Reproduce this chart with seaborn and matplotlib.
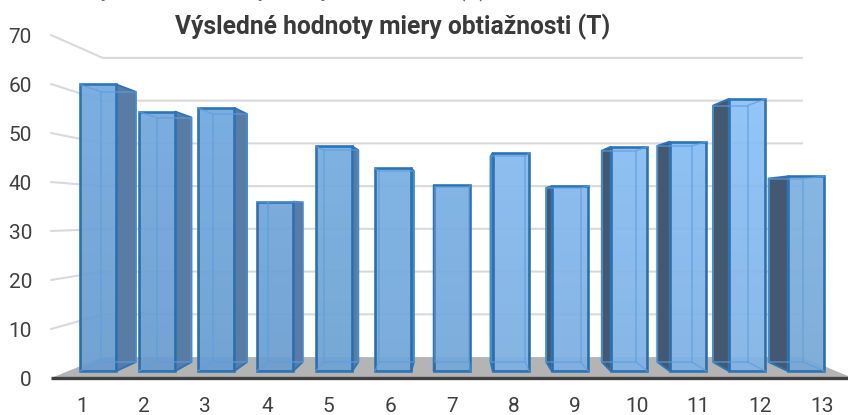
import numpy as np
import pandas as pd
import matplotlib.pyplot as plt
import seaborn as sns
from matplotlib.patches import Polygon

groups = ['1', '2', '3', '4', '5', '6', '7', '8', '9', '10', '11', '12', '13']
values = [61.1, 55.3, 56.1, 36.1, 47.9, 43.2, 39.6, 46.5, 39.4, 47.8, 48.9, 58.0, 41.5]
y_ticks = [0, 10, 20, 30, 40, 50, 60, 70]
face_colors = ['#72a9df', '#72a9df', '#72aae0', '#74abe1', '#78b0e4', '#7cb4e8', '#7eb5ea',
               '#88bef4', '#88bef5', '#8ac0f7', '#8ac0f7', '#8cc2f8', '#82b6e8']
side_colors = ['#587ca4', '#587ca4', '#587ca4', '#587ca4', '#587ca4', '#55789f', '#55789f',
               '#4d6b8c', '#44586f', '#44586f', '#44586f', '#44586f', '#44586f']

title = 'Výsledné hodnoty miery obtiažnosti (T)'
caption = 'Graf 1. Výsledné hodnoty miery obtiažnosti (T)'

sns.set_style('white')
plt.rcParams['font.family'] = ['Roboto', 'DejaVu Sans']

W, H = 848, 415
fig = plt.figure(figsize=(W / 100, H / 100), dpi=100)
ax = fig.add_axes([0, 0, 1, 1])

df = pd.DataFrame({'group': groups, 'value': values})
sns.barplot(data=df, x='group', y='value', hue='group', palette=face_colors, legend=False,
            width=0.62, edgecolor='#2e75b6', linewidth=1.9, saturation=1, ax=ax, zorder=3)
bars = list(ax.patches)

# data scale: bar 1 centre at px 98, 59 px per bar, baseline at px 371, 4.69 px per unit
PX_X, PX_Y = 59.0, 4.69

# fake perspective, everything is scaled around the vanishing point
VX, VY = (456 - 98) / PX_X, (371 - 214) / PX_Y
S_AXIS, S_FRONT, S_BACK, S_WALL = 1.0, 0.957, 0.902, 0.872


def proj(x, y, s):
    k = s / S_FRONT
    return VX + (x - VX) * k, VY + (y - VY) * k


x_left = VX + (51 - 456) / PX_X / S_AXIS * S_FRONT
x_right = VX + (853 - 456) / PX_X / S_AXIS * S_FRONT

# floor
floor = [proj(x_left, 0, S_AXIS), proj(x_left, 0, S_WALL), proj(x_right, 0, S_WALL), proj(x_right, 0, S_AXIS)]
ax.add_patch(Polygon(floor, closed=True, facecolor='#b4b4b4', edgecolor='none', zorder=1))

# grid on the wall and the left side
for t in y_ticks[1:]:
    a = proj(x_left, t, S_AXIS)
    b = proj(x_left, t, S_WALL)
    c = proj(x_right, t, S_WALL)
    ax.plot([a[0], b[0], c[0]], [a[1], b[1], c[1]], color='#d9d9d9', lw=1.5, zorder=1)

a = proj(x_left, 0, S_AXIS)
c = proj(x_right, 0, S_AXIS)
ax.plot([a[0], c[0]], [a[1], c[1]], color='#404040', lw=2.4, zorder=2, solid_capstyle='butt')

# depth of each bar
for i, bar in enumerate(bars):
    x0 = bar.get_x()
    x1 = x0 + bar.get_width()
    top = bar.get_height()
    r, g, b_, _ = bar.get_facecolor()
    bar.set_facecolor((r, g, b_, 0.93))
    # visible side is the one facing the vanishing point
    xs = x1 if x1 < VX else x0
    xo = x0 if x1 < VX else x1
    side = [proj(xs, 0, S_FRONT), proj(xs, top, S_FRONT), proj(xs, top, S_BACK), proj(xs, 0, S_BACK)]
    ax.add_patch(Polygon(side, closed=True, facecolor=side_colors[i], edgecolor='#2e75b6', lw=1.4,
                         joinstyle='round', zorder=2.5))
    back = [proj(xo, 0, S_BACK), proj(xo, top, S_BACK), proj(xs, top, S_BACK), proj(xs, 0, S_BACK)]
    ax.add_patch(Polygon(back, closed=True, facecolor='none', edgecolor='#5c9ee0', lw=1.1, alpha=0.7, zorder=4))
    for yy in (0, top):
        p, q = proj(xo, yy, S_FRONT), proj(xo, yy, S_BACK)
        ax.plot([p[0], q[0]], [p[1], q[1]], color='#5c9ee0', lw=1.1, alpha=0.7, zorder=4)
    # faces get a bit darker towards the floor
    shade = np.zeros((32, 1, 4))
    shade[:, 0, 3] = np.linspace(0.07 * (1 - top / 60) + 0.005, 0.07, 32)
    im = ax.imshow(shade, extent=(x0, x1, 0, top), aspect='auto', zorder=3.5)
    im.set_clip_path(bar)

ax.set_xlim(-98 / PX_X, (W - 98) / PX_X)
ax.set_ylim(-(H - 371) / PX_Y, 371 / PX_Y)
ax.axis('off')

# tick labels sit on the front plane
for t in y_ticks:
    px, py = proj(x_left, t, S_AXIS)
    ax.text(32 / PX_X - 98 / PX_X, py - 0.6, str(t), ha='right', va='center', fontsize=15, color='#404040')
for i, g in enumerate(groups):
    px, py = proj(i, 0, S_AXIS)
    ax.text(px, -(406 - 371) / PX_Y, g, ha='center', va='center', fontsize=15, color='#404040')

fig.text(393 / W, 1 - 27 / H, title, ha='center', va='center', fontsize=17.7, fontweight='bold', color='#3a3a3a')
# caption above the chart, cut off by the top of the picture
fig.text(487 / W, 1 + 5 / H, caption, ha='right', va='baseline', fontsize=16.7, color='#666666')

fig.savefig('out.png', dpi=100)
